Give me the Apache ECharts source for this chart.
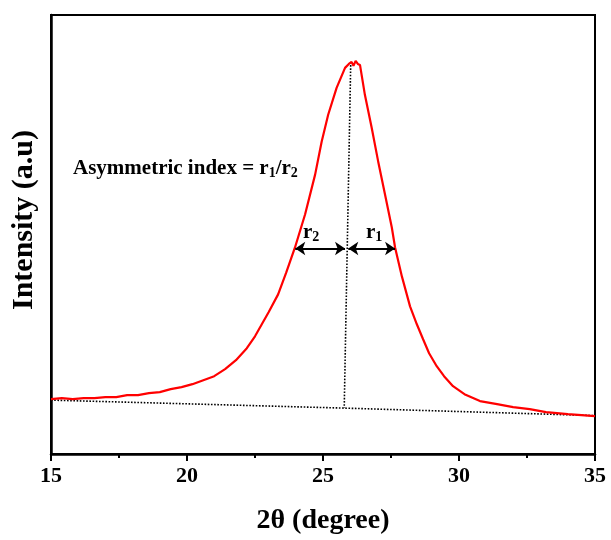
<!DOCTYPE html>
<html>
<head>
<meta charset="utf-8">
<script src="https://cdn.jsdelivr.net/npm/echarts@6/dist/echarts.min.js"></script>
<style>
  html, body { margin: 0; padding: 0; background: #fff; }
  #chart { width: 611px; height: 540px; }
</style>
</head>
<body>
<div id="chart"></div>
<script>
// 2θ values and intensity
const twoTheta = [15.0, 15.4, 15.8, 16.2, 16.6, 17.0, 17.4, 17.8, 18.2, 18.6, 19.0, 19.4, 19.8, 20.2, 20.6, 21.0,
  21.4, 21.8, 22.2, 22.5, 22.75, 23.0, 23.35, 23.65, 23.97, 24.34, 24.71, 24.95, 25.19, 25.5, 25.81, 25.95,
  26.05, 26.12, 26.2, 26.28, 26.36, 26.42, 26.54, 26.79, 27.03, 27.28, 27.53, 27.65, 27.9, 28.2, 28.45, 28.68,
  28.9, 29.18, 29.45, 29.78, 30.2, 30.77, 31.4, 31.99, 32.6, 33.2, 34.0, 34.5, 35.0];
const intensity = [55, 56, 55, 56, 56, 57, 57, 59, 59, 61, 62, 65, 67, 70, 74, 78,
  85, 94, 106, 118, 130, 142, 160, 182, 207, 240, 280, 313, 340, 367, 387, 391,
  393, 389, 394, 391, 390, 380, 360, 327, 293, 260, 227, 207, 178, 148, 130, 115,
  101, 88, 78, 68, 60, 53, 50, 47, 45, 42, 40, 39, 38];

// construction lines
const baseline = [[15, 54], [25.78, 46], [35, 38.5]];
const peakLine = [[26.02, 393], [25.78, 46]];
const r2Arrow = [[23.98, 206], [25.81, 206]];
const r1Arrow = [[25.93, 206], [27.65, 206]];

const xTicks = [15, 20, 25, 30, 35];

const serif = '"Liberation Serif", "Times New Roman", serif';
const chart = echarts.init(document.getElementById('chart'));

const curve = twoTheta.map((t, i) => [t, intensity[i]]);

const option = {
  animation: false,
  grid: {
    left: 51, right: 16, top: 15, bottom: 85,
    show: true, borderColor: '#000', borderWidth: 2
  },
  xAxis: {
    type: 'value', min: 15, max: 35, interval: 5,
    name: '2θ (degree)', nameLocation: 'middle', nameGap: 53,
    nameTextStyle: { fontFamily: serif, fontWeight: 'bold', fontSize: 28, color: '#000' },
    axisLine: { lineStyle: { color: '#000', width: 2.5 } },
    axisTick: { length: 7, lineStyle: { color: '#000', width: 2 } },
    minorTick: { show: true, splitNumber: 2, length: 4, lineStyle: { color: '#000', width: 2 } },
    axisLabel: {
      fontFamily: serif, fontWeight: 'bold', fontSize: 22, color: '#000', margin: 11,
      formatter: v => xTicks.includes(v) ? String(v) : ''
    },
    splitLine: { show: false }
  },
  yAxis: {
    type: 'value', min: 0, max: 440,
    axisLine: { show: true, lineStyle: { color: '#000', width: 2.5 } },
    axisTick: { show: false },
    axisLabel: { show: false },
    splitLine: { show: false }
  },
  series: [
    {
      type: 'line', data: baseline, symbol: 'none', z: 1,
      lineStyle: { color: '#000', width: 1.6, type: 'dotted' }
    },
    {
      type: 'line', data: peakLine, symbol: 'none', z: 1,
      lineStyle: { color: '#000', width: 1.6, type: 'dotted' }
    },
    {
      type: 'line', data: curve, symbol: 'none', z: 3,
      lineStyle: { color: '#ff0000', width: 2.2 }
    },
    {
      type: 'lines', coordinateSystem: 'cartesian2d', polyline: false,
      symbol: ['arrow', 'arrow'], symbolSize: 10,
      lineStyle: { color: '#000', width: 2, opacity: 1 },
      data: [{ coords: r2Arrow }, { coords: r1Arrow }], z: 4
    }
  ],
  graphic: [
    {
      type: 'text', left: 73, top: 158,
      style: {
        text: 'Asymmetric index = r{s|1}/r{s|2}',
        font: 'bold 21px ' + serif, fill: '#000',
        rich: { s: { fontSize: 14, fontWeight: 'bold', fontFamily: serif, fill: '#000', padding: [10, 0, 0, 0] } }
      }
    },
    {
      type: 'text', left: 303, top: 222,
      style: {
        text: 'r{s|2}', font: 'bold 21px ' + serif, fill: '#000',
        rich: { s: { fontSize: 14, fontWeight: 'bold', fontFamily: serif, fill: '#000', padding: [10, 0, 0, 0] } }
      }
    },
    {
      type: 'text', left: 366, top: 222,
      style: {
        text: 'r{s|1}', font: 'bold 21px ' + serif, fill: '#000',
        rich: { s: { fontSize: 14, fontWeight: 'bold', fontFamily: serif, fill: '#000', padding: [10, 0, 0, 0] } }
      }
    },
    {
      type: 'text', x: 24, y: 220, rotation: Math.PI / 2,
      style: {
        text: 'Intensity (a.u)', font: 'bold 30px ' + serif, fill: '#000',
        textAlign: 'center', textVerticalAlign: 'middle'
      }
    }
  ]
};

chart.setOption(option);
</script>
</body>
</html>
